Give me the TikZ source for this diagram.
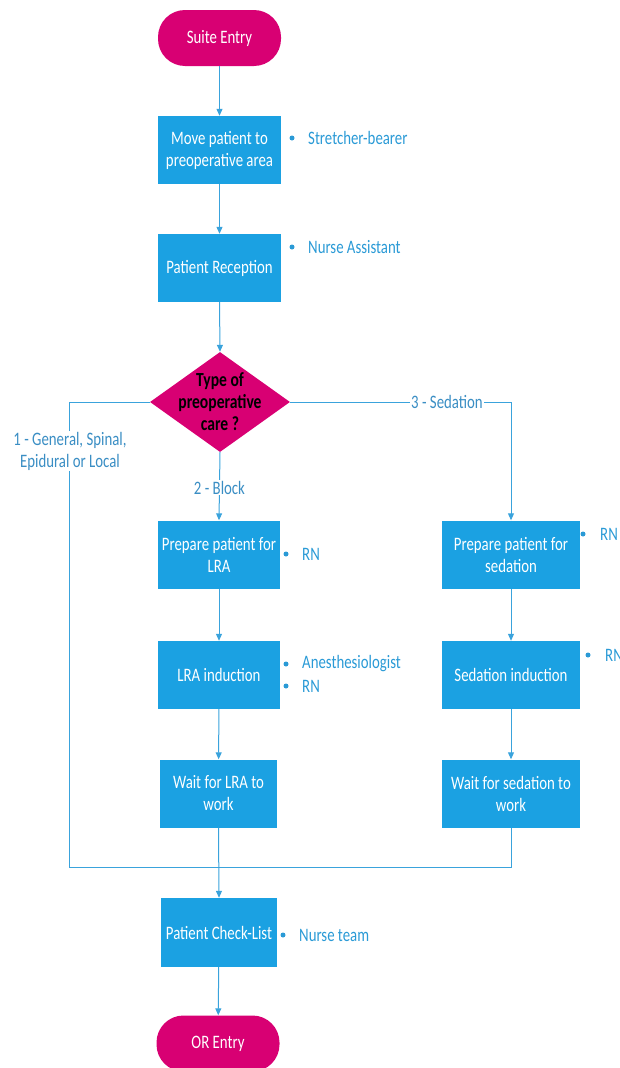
\documentclass[tikz,border=0pt]{standalone}
\usepackage{fontspec}
\setmainfont{Carlito}[FakeStretch=0.78]
\usetikzlibrary{shapes.geometric,arrows.meta}
\definecolor{boxblue}{HTML}{1BA1E2}
\definecolor{mag}{HTML}{D80073}
\definecolor{linec}{HTML}{3AA3DC}
\definecolor{lblc}{HTML}{2A9AD6}
\definecolor{brc}{HTML}{3A8EC4}
\tikzset{
  box/.style={draw=none,fill=boxblue,text=white,align=center,inner sep=0pt,
    minimum height=68pt,font=\fontsize{19}{22}\selectfont},
  term/.style={fill=mag,text=white,rounded corners=27pt,minimum width=123pt,
    minimum height=56pt,inner sep=0pt,font=\fontsize{19}{22}\selectfont},
  lbl/.style={text=lblc,anchor=west,inner sep=0pt,font=\fontsize{19}{22}\selectfont},
  bul/.style={circle,fill=lblc,inner sep=0pt,minimum size=5pt},
  branch/.style={text=brc,fill=white,align=center,inner sep=1pt,font=\fontsize{19}{22}\selectfont},
  conn/.style={draw=linec,line width=1pt},
  arr/.style={conn,-{Triangle[length=7pt,width=6pt]}},
}
\begin{document}
\begin{tikzpicture}[x=1pt,y=-1pt]
\useasboundingbox (0,0) rectangle (619,1068);
\clip (0,0) rectangle (619,1068);
% terminals and boxes
\node[term] (start) at (219.5,38) {Suite Entry};
\node[box,minimum width=123pt] (move) at (219.5,150) {Move patient to\\preoperative area};
\node[box,minimum width=123pt] (recep) at (219.5,268) {Patient Reception};
\node[diamond,fill=mag,minimum width=140pt,minimum height=100pt,inner sep=0pt] (dia) at (220,402) {};
\node[align=center,font=\fontsize{20}{22}\selectfont\bfseries,text=black] (diat) at (220,402) {Type of\\preoperative\\care ?};
\node[box,minimum width=122pt] (pl) at (219,554.5) {Prepare patient for\\LRA};
\node[box,minimum width=122pt] (il) at (219,675) {LRA induction};
\node[box,minimum width=117pt] (wl) at (218.5,793.5) {Wait for LRA to\\work};
\node[box,minimum width=138pt] (ps) at (511,554.5) {Prepare patient for\\sedation};
\node[box,minimum width=138pt] (is) at (511,675) {Sedation induction};
\node[box,minimum width=138pt] (ws) at (511,793.5) {Wait for sedation to\\work};
\node[box,minimum width=116pt,minimum height=69pt] (chk) at (219,932.5) {Patient Check-List};
\node[term] (end) at (218,1043.5) {OR Entry};
% role labels
\node[bul] (b1) at (292,138) {};
\node[lbl] (l1) at (308,138) {Stretcher-bearer};
\node[bul] (b2) at (292,247) {};
\node[lbl] (l2) at (308,247) {Nurse Assistant};
\node[bul] (b3) at (286,554) {};
\node[lbl] (l3) at (302,554) {RN};
\node[bul] (b4) at (286,664) {};
\node[lbl] (l4) at (302,664) {Anesthesiologist};
\node[bul] (b5) at (286,686) {};
\node[lbl] (l5) at (302,686) {RN};
\node[bul] (b6) at (583,534) {};
\node[lbl] (l6) at (600,534) {RN};
\node[bul] (b7) at (588,655) {};
\node[lbl] (l7) at (605,655) {RN};
\node[bul] (b8) at (283,935) {};
\node[lbl] (l8) at (299,935) {Nurse team};
% junctions
\coordinate (jl) at (69,867);
\coordinate (jr) at (511,867);
\coordinate (jm) at (219,867);
% connectors
\draw[arr] (start) -- (move);
\draw[arr] (move) -- (recep);
\draw[arr] (recep.south) -- (dia.north);
\draw[arr] (dia.south) -- node[branch,pos=0.52] (lb2) {2 - Block} (pl.north);
\draw[arr] (pl) -- (il);
\draw[arr] (il) -- (wl);
\draw[arr] (dia.east) -| (ps.north);
\node[branch] (lb3) at (447,402) {3 - Sedation};
\draw[arr] (ps) -- (is);
\draw[arr] (is) -- (ws);
\draw[conn] (dia.west) -| (jl) -- (jm);
\node[branch] (lb1) at (70,451) {1 - General, Spinal,\\Epidural or Local};
\draw[conn] (ws.south) -- (jr) -- (jm);
\draw[arr] (wl.south) -- (chk.north);
\draw[arr] (chk) -- (end);
\end{tikzpicture}
\end{document}
